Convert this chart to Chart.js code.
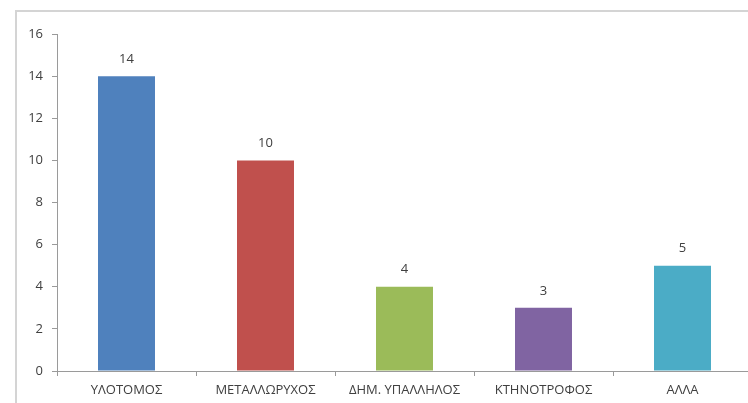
<!DOCTYPE html>
<html>
<head>
<meta charset="utf-8">
<script src="https://cdn.jsdelivr.net/npm/chart.js@4/dist/chart.umd.min.js"></script>
<style>
  html, body { margin: 0; padding: 0; background: #fff; overflow: hidden; width: 748px; height: 403px; }
  #c { position: absolute; left: 0; top: 0; }
</style>
</head>
<body>
<canvas id="c" width="760" height="403"></canvas>
<script>
// categorías y valores
const categorias = ['ΥΛΟΤΟΜΟΣ', 'ΜΕΤΑΛΛΩΡΥΧΟΣ', 'ΔΗΜ. ΥΠΑΛΛΗΛΟΣ', 'ΚΤΗΝΟΤΡΟΦΟΣ', 'ΑΛΛΑ'];
const valores = [14, 10, 4, 3, 5];
const colores = ['#4f81bd', '#c0504d', '#9bbb59', '#8064a2', '#4bacc6'];
const ejeY = { min: 0, max: 16, paso: 2 };

const fuente = "'Open Sans', 'DejaVu Sans', sans-serif";

// marco gris (borde izquierdo y superior del gráfico)
const marco = {
  id: 'marco',
  beforeDraw(chart) {
    const ctx = chart.ctx;
    ctx.save();
    ctx.strokeStyle = '#d4d4d4';
    ctx.lineWidth = 2;
    ctx.beginPath();
    ctx.moveTo(16, chart.height);
    ctx.lineTo(16, 11);
    ctx.lineTo(chart.width, 11);
    ctx.stroke();
    ctx.restore();
  }
};

// etiquetas encima de cada barra
const etiquetas = {
  id: 'etiquetas',
  afterDatasetsDraw(chart) {
    const ctx = chart.ctx;
    const meta = chart.getDatasetMeta(0);
    ctx.save();
    ctx.font = '13px ' + fuente;
    ctx.fillStyle = '#404040';
    ctx.textAlign = 'center';
    ctx.textBaseline = 'middle';
    meta.data.forEach((bar, i) => {
      ctx.fillText(String(valores[i]), bar.x, bar.y - 17);
    });
    ctx.restore();
  }
};

new Chart(document.getElementById('c').getContext('2d'), {
  type: 'bar',
  data: {
    labels: categorias,
    datasets: [{
      data: valores,
      backgroundColor: colores,
      barPercentage: 0.82,
      categoryPercentage: 0.5
    }]
  },
  options: {
    responsive: false,
    animation: false,
    layout: { padding: { top: 34, right: 8, left: 0, bottom: 0 } },
    plugins: {
      legend: { display: false },
      tooltip: { enabled: false }
    },
    scales: {
      x: {
        grid: { display: true, drawOnChartArea: false, offset: true, tickLength: 5, color: '#9a9a9a' },
        border: { color: '#9a9a9a', width: 1 },
        ticks: { color: '#404040', font: { family: fuente, size: 13 }, padding: 6, maxRotation: 0 },
        afterFit(scale) { scale.height = 32; }
      },
      y: {
        min: ejeY.min,
        max: ejeY.max,
        ticks: { stepSize: ejeY.paso, color: '#404040', font: { family: fuente, size: 13 }, padding: 9 },
        grid: { display: true, drawOnChartArea: false, tickLength: 5, color: '#9a9a9a' },
        border: { color: '#9a9a9a', width: 1 },
        afterFit(scale) { scale.width = 57; }
      }
    }
  },
  plugins: [marco, etiquetas]
});
</script>
</body>
</html>
